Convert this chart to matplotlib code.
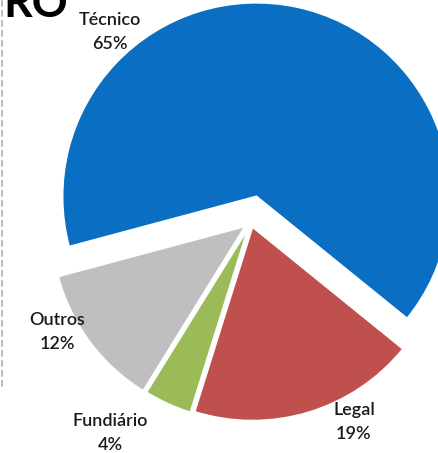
import matplotlib
matplotlib.use("Agg")
import matplotlib.pyplot as plt

# share of each category
categorias = ["Técnico", "Legal", "Fundiário", "Outros"]
percentuais = [65, 19, 4, 12]
cores = ["#0A6FC2", "#C0504D", "#9BBB59", "#BFBFBF"]

W, H = 438, 453
fig = plt.figure(figsize=(W / 100, H / 100), dpi=100)
ax = fig.add_axes([0, 0, 1, 1])

# pie laid out in pixel-like coordinates (y up); explode is in the same units
cx, cy, R = 251, H - 222, 194
afastamento = [26, 5, 6, 7]
ax.pie(percentuais, colors=cores, explode=afastamento, startangle=195,
       counterclock=False, center=(cx, cy), radius=R,
       wedgeprops=dict(edgecolor="white", linewidth=1.5))

ax.set_xlim(0, W)
ax.set_ylim(0, H)
ax.set_aspect("equal")
ax.set_axis_off()

# slice labels
pos_rotulos = [(110, H - 32), (354, H - 422), (110, H - 433), (57, H - 332)]
for nome, pct, (x, y) in zip(categorias, percentuais, pos_rotulos):
    ax.text(x, y, f"{nome}\n{pct}%", ha="center", va="center",
            fontsize=13, family="Lato", fontweight="semibold",
            color="#1a1a1a", linespacing=1.6)

ax.text(3, H - 17, "RO", ha="left", va="baseline", fontsize=32,
        fontweight="bold", family="Lato", color="black")

# dashed frame edge on the left
ax.plot([1.5, 1.5], [H, H - 390], color="#b0b0b0", linewidth=1.2,
        linestyle=(0, (4, 2)))

fig.savefig("out.png", dpi=100)
